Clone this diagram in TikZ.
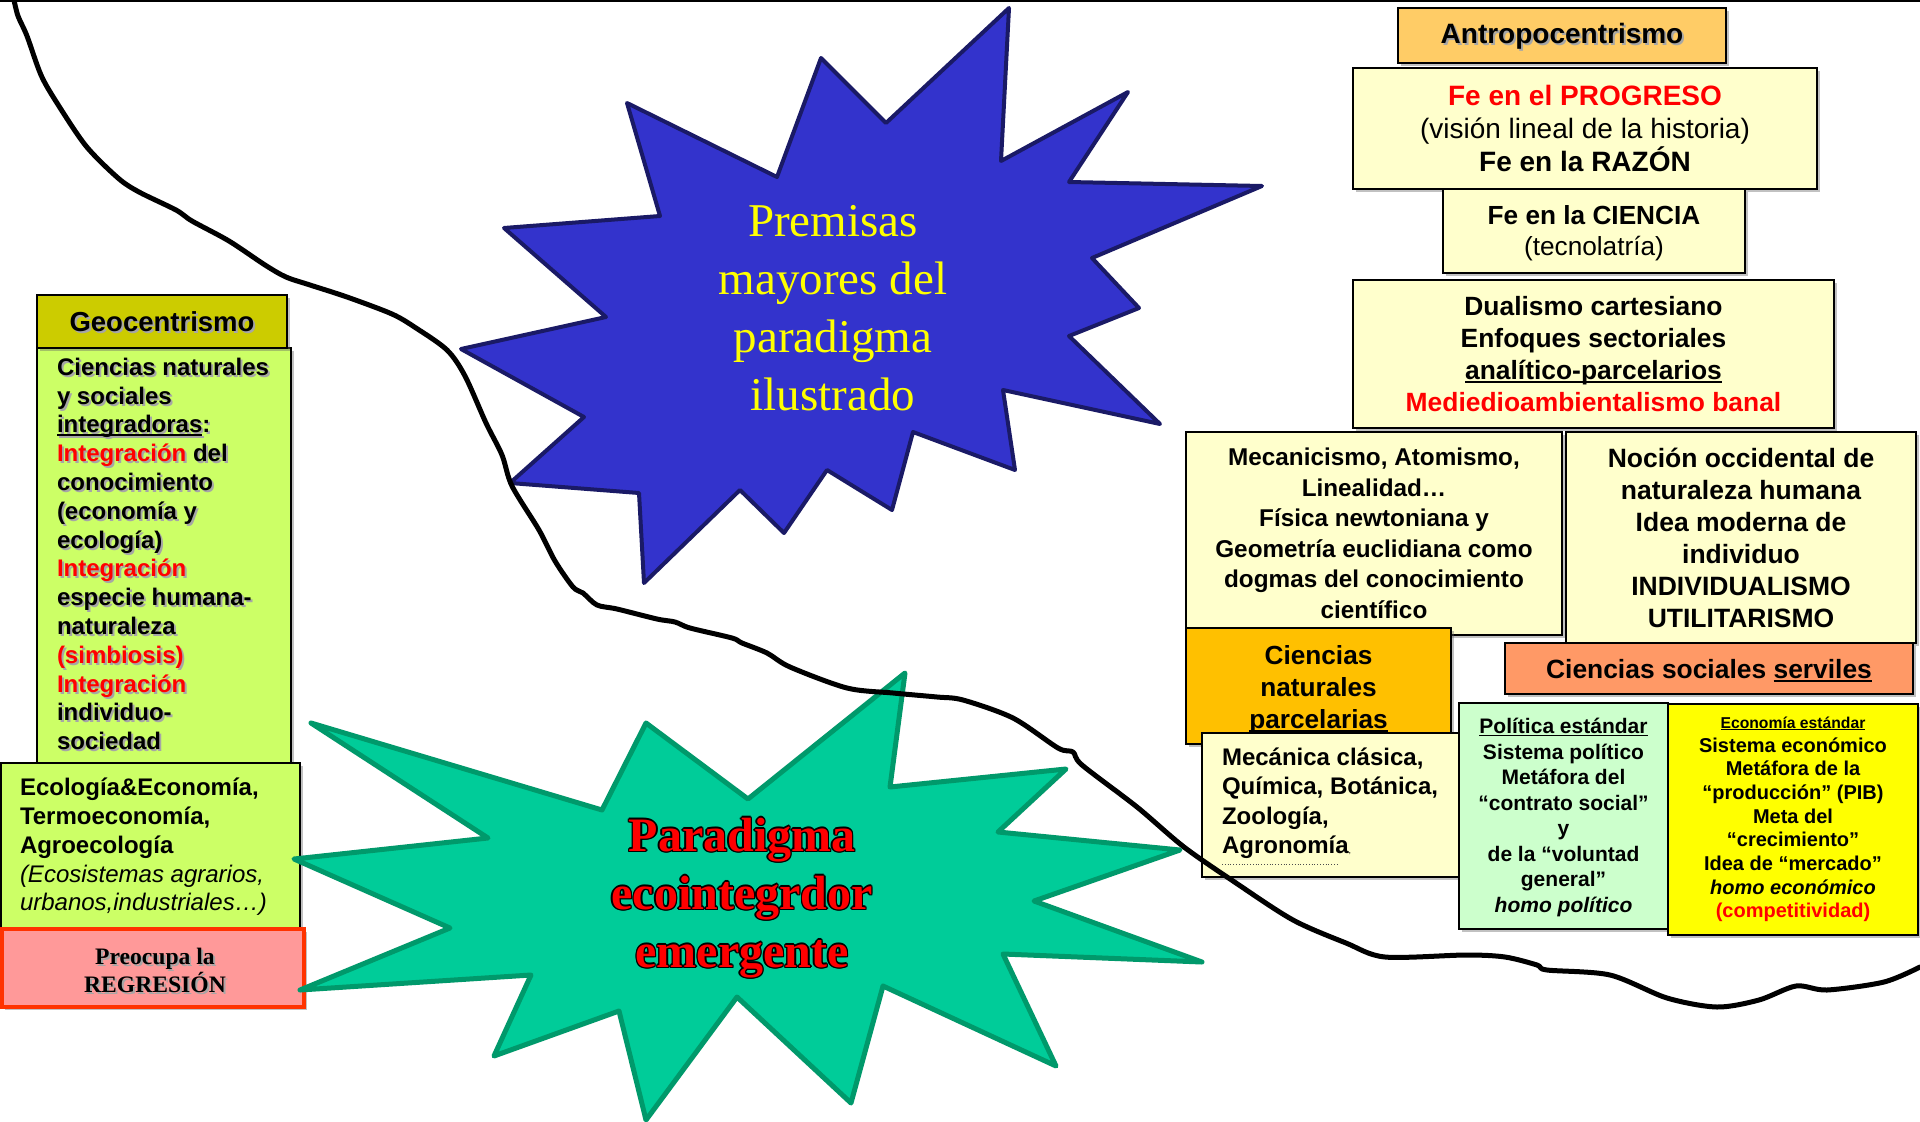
\documentclass[tikz,border=0pt]{standalone}
\usepackage{fontspec}
\setmainfont{Liberation Sans}
\newfontfamily\serif{Liberation Serif}
\usetikzlibrary{shadows}
\definecolor{geoh}{HTML}{CCCC00}
\definecolor{geob}{HTML}{CCFF66}
\definecolor{pinkf}{HTML}{FF9999}
\definecolor{pinkd}{HTML}{FF3300}
\definecolor{anth}{HTML}{FFCC66}
\definecolor{cream}{HTML}{FFFFCC}
\definecolor{parcf}{HTML}{FFC000}
\definecolor{servf}{HTML}{FF9966}
\definecolor{polg}{HTML}{CCFFCC}
\definecolor{econy}{HTML}{FFFF00}
\definecolor{bluef}{HTML}{3333CC}
\definecolor{blued}{HTML}{1A1A66}
\definecolor{greenf}{HTML}{00CC99}
\definecolor{greend}{HTML}{00996B}
\definecolor{premy}{HTML}{FFFF00}
\definecolor{myred}{HTML}{FF0000}
\newif\ifshd
\newcommand\red[1]{\ifshd#1\else\textcolor{myred}{#1}\fi}
\newsavebox\ulbox
\newcommand\ul[1]{\sbox\ulbox{#1}\rlap{\rule[-0.13em]{\wd\ulbox}{0.07em}}\usebox\ulbox}
\newcommand\fs[2]{\fontsize{#1}{#2}\selectfont}
\newcommand\tallstrut[1]{\rule{0pt}{#1em}}
\newcommand\geotext{Ciencias naturales\\y sociales\\\ul{integradoras}:\\\red{Integración} del\\conocimiento\\(economía y\\ecología)\\\red{Integración}\\especie humana-\\naturaleza\\\red{(simbiosis)}\\\red{Integración}\\individuo-\\sociedad}
\tikzset{
  bx/.style 2 args={draw=black, line width=2pt, inner sep=0pt, outer sep=0pt, anchor=north west, align=center, minimum width=#1pt, minimum height=#2pt, drop shadow={shadow xshift=2.5pt, shadow yshift=-2.5pt, opacity=0.4, fill=black!60}},
  txt/.style={inner sep=0pt, outer sep=0pt},
  shd/.style={txt, text=black!35},
  bluestar/.style={fill=bluef, draw=blued, line width=4pt, line join=round},
  greenstar/.style={fill=greenf, draw=greend, line width=5pt, line join=round},
  wavy/.style={draw=black, line width=5pt, line join=round, line cap=round},
}
\begin{document}
\begin{tikzpicture}[x=1pt,y=-1pt]
\fill[white] (0,0) rectangle (1920,1122);
\useasboundingbox (0,0) rectangle (1920,1122);

% ---------- left column ----------
\node[bx={254}{422}, fill=geob] (geobody) at (37,348) {};
\node[bx={250}{53}, fill=geoh] (geohead) at (37,295) {};
\node[shd, font=\bfseries\fs{27.5}{30}\shdtrue] (geoheadS) at ([shift={(2,2)}]geohead.center) {Geocentrismo};
\node[txt, font=\bfseries\fs{27.5}{30}] (geoheadT) at (geohead.center) {Geocentrismo};
\node[shd, anchor=west, align=left, font=\bfseries\fs{24}{28.8}\shdtrue] (geotextS) at (59,556) {\geotext};
\node[txt, anchor=west, align=left, font=\bfseries\fs{24}{28.8}] (geotext) at (57,554) {\geotext};

\node[bx={299}{165}, fill=geob] (eco) at (1,763) {};
\node[txt, anchor=west, align=left, font=\bfseries\fs{24}{28.8}] (ecotext) at (20,847) {Ecología\&Economía,\\Termoeconomía,\\Agroecología\\{\mdseries\itshape (Ecosistemas agrarios,}\\{\mdseries\itshape urbanos,industriales…)}};

\node[bx={302}{78}, fill=pinkf, draw=pinkd, line width=4pt] (pink) at (2,929) {};
\node[shd, align=center, font=\serif\bfseries\fs{23.6}{28}] (pinkS) at ([shift={(2,2)}]155,970) {Preocupa la\\REGRESIÓN};
\node[txt, align=center, font=\serif\bfseries\fs{23.6}{28}] (pinktext) at (155,970) {Preocupa la\\REGRESIÓN};

% ---------- right column ----------
\node[bx={328}{55}, fill=anth] (anthro) at (1398,8) {};
\node[shd, font=\bfseries\fs{28}{30}] (anthroS) at ([shift={(2,3)}]anthro.center) {Antropocentrismo};
\node[txt, font=\bfseries\fs{28}{30}] (anthroT) at ([shift={(0,1)}]anthro.center) {Antropocentrismo};

\node[bx={464}{121}, fill=cream, font=\fs{28}{33}] (prog) at (1353,68) {\textcolor{myred}{\bfseries Fe en el PROGRESO}\\(visión lineal de la historia)\\\bfseries Fe en la RAZÓN};
\node[bx={302}{84}, fill=cream, font=\fs{26.2}{31}] (cien) at (1443,189) {\tallstrut{0.9}\bfseries Fe en la CIENCIA\\(tecnolatría)};
\node[bx={481}{148}, fill=cream, font=\bfseries\fs{26.4}{32}] (dual) at (1353,280) {Dualismo cartesiano\\Enfoques sectoriales\\\ul{analítico-parcelarios}\\\textcolor{myred}{Mediedioambientalismo banal}};

\node[bx={376}{203}, fill=cream, font=\bfseries\fs{24.3}{30.5}] (meca) at (1186,432) {Mecanicismo, Atomismo,\\Linealidad…\\Física newtoniana y\\Geometría euclidiana como\\dogmas del conocimiento\\científico};
\node[bx={350}{211}, fill=cream, font=\bfseries\fs{26.5}{32}] (noci) at (1566,432) {Noción occidental de\\naturaleza humana\\Idea moderna de\\individuo\\INDIVIDUALISMO\\UTILITARISMO};
\node[bx={265}{116}, fill=parcf, font=\bfseries\fs{26.2}{32}] (parc) at (1186,628) {\tallstrut{1.0}Ciencias\\naturales\\\ul{parcelarias}};
\node[bx={408}{51}, fill=servf, font=\bfseries\fs{26.4}{30}] (serv) at (1505,643) {\tallstrut{0.9}Ciencias sociales \ul{serviles}};

\node[bx={259}{144}, fill=cream] (mecan) at (1202,733) {};
\node[txt, anchor=west, align=left, font=\bfseries\fs{24}{29.5}] (mecantext) at (1222,803) {Mecánica clásica,\\Química, Botánica,\\Zoología,\\Agronomía{\mdseries\fs{9}{9},}};
\draw[black!70, line width=0.8pt, dotted] (1222,864) -- (1339,864);

\node[bx={209}{226}, fill=polg, font=\bfseries\fs{21}{25.5}] (poli) at (1459,703) {\tallstrut{0.85}\ul{Política estándar}\\Sistema político\\Metáfora del\\“contrato social”\\y\\de la “voluntad\\general”\\{\itshape homo político}};
\node[bx={250}{231}, fill=econy, font=\bfseries\fs{20}{23.7}] (econ) at (1668,704) {{\fs{15.7}{18}\ul{Economía estándar}}\\Sistema económico\\Metáfora de la\\“producción” (PIB)\\Meta del\\“crecimiento”\\Idea de “mercado”\\{\itshape homo económico}\\\textcolor{myred}{(competitividad)}};

% ---------- stars ----------
\draw[bluestar] (1009,8) -- (1001,161) -- (1128,92) -- (1069,182) -- (1262,186) -- (1092,258) -- (1139,308) -- (1069,336) -- (1160,424) -- (1003,390) -- (1015,470) -- (913,432) -- (892,510) -- (827,470) -- (784,533) -- (740,490) -- (644,583) -- (639,493) -- (510,483) -- (584,417) -- (461,349) -- (606,317) -- (504,228) -- (660,216) -- (627,103) -- (777,177) -- (821,58) -- (886,123) -- cycle;
\node[txt, align=center, text=premy, font=\serif\fs{47}{58}] (premisas) at (833,308) {Premisas\\mayores del\\paradigma\\ilustrado};

\draw[greenstar] (905,673) -- (890,787) -- (1066,769) -- (998,832) -- (1180,850) -- (1034,901) -- (1202,962) -- (1003,954) -- (1056,1066) -- (883,986) -- (851,1103) -- (737,997) -- (646,1120) -- (619,1011) -- (494,1056) -- (531,975) -- (300,990) -- (450,928) -- (294,859) -- (488,838) -- (311,723) -- (602,810) -- (646,723) -- (748,799) -- cycle;
\foreach \a in {0,45,...,315}
  \node[txt, align=center, text=black, font=\serif\bfseries\fs{48}{58}] (pc\a) at ([shift={(\a:1.4)}]742,898) {Paradigma\\ecointegrdor\\emergente};
\node[txt, align=center, text=myred, font=\serif\bfseries\fs{48}{58}] (paradigma) at (742,898) {Paradigma\\ecointegrdor\\emergente};

% ---------- wavy boundary line ----------
\draw[wavy] plot[smooth, tension=0.5] coordinates {(14,0) (18,16) (27,36) (41,75) (57,103) (86,146) (118,178) (139,192) (176,210) (192,221) (229,241) (265,265) (286,277) (310,285) (347,297) (392,314) (416,328) (447,350) (465,376) (486,423) (502,455) (512,486) (539,530) (555,561) (573,587) (583,593) (597,605) (617,609) (657,619) (675,622) (690,628) (732,638) (742,643) (767,653) (790,667) (847,688) (893,693) (937,697) (963,700) (1013,718) (1058,748) (1073,752) (1082,765) (1137,807) (1184,847) (1236,883) (1293,920) (1346,943) (1385,957) (1466,955) (1505,957) (1537,965) (1547,970) (1610,975) (1667,998) (1717,1007) (1759,1000) (1796,986) (1827,990) (1884,982) (1920,967)};

% top frame line
\draw[black, line width=2pt] (0,1) -- (1920,1);
\end{tikzpicture}
\end{document}
